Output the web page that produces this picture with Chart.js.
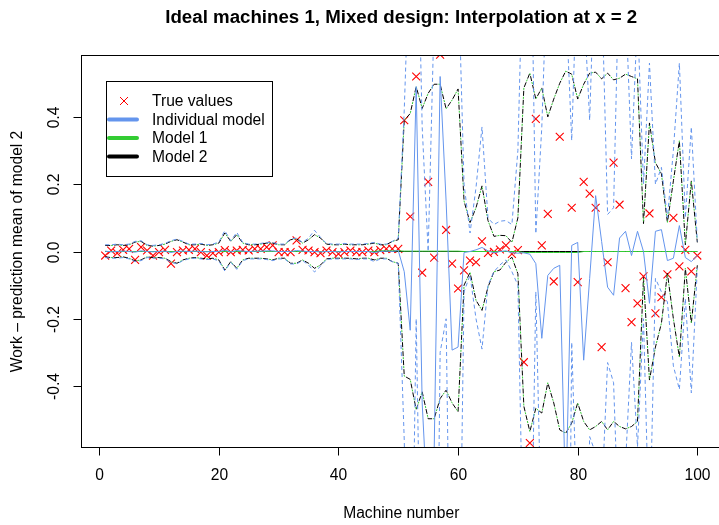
<!DOCTYPE html>
<html>
<head>
<meta charset="utf-8">
<script src="https://cdn.jsdelivr.net/npm/chart.js@4.4.0/dist/chart.umd.min.js"></script>
<style>
  html, body { margin: 0; padding: 0; background: #fff; overflow: hidden; width: 719px; height: 525px; }
  canvas { display: block; }
</style>
</head>
<body>
<canvas id="chart" width="740" height="525"></canvas>
<script>
// Machine numbers 1..100 (categories)
const machines = Array.from({ length: 100 }, (_, k) => k + 1);

// True values (red crosses); null = outside the plotted range
const trueValues = [
  -0.012, 0.003, -0.005, 0.005, 0.008, -0.025, 0.013, 0.003, -0.012, -0.002,
  0.005, -0.036, -0.002, 0.003, 0.005, 0.008, -0.002, -0.012, -0.005, -0.002,
  0.004, -0.002, 0.003, 0.005, 0.003, 0.008, 0.008, 0.013, 0.018, -0.002,
  -0.002, -0.002, 0.033, 0.005, 0.003, -0.002, -0.005, 0.003, -0.002, -0.007,
  -0.002, 0.003, -0.002, -0.002, 0.003, -0.002, 0.004, 0.008, 0.008, 0.008,
  0.39, 0.104, 0.52, -0.063, 0.207, -0.018, 0.585, 0.064, -0.036, -0.11,
  -0.056, -0.027, -0.032, 0.03, -0.004, -0.001, 0.006, 0.018, -0.007, 0.004,
  -0.329, -0.569, 0.394, 0.018, 0.112, -0.089, 0.341, null, 0.13, -0.091,
  0.207, 0.172, 0.13, -0.284, -0.032, 0.264, 0.139, -0.109, -0.21, -0.154,
  -0.074, 0.113, -0.184, -0.136, -0.068, 0.1, -0.044, 0.005, -0.059, -0.012
];

// Individual model: mean and dashed bounds
const indivMean = [
  0.001, -0.001, 0.0, 0.001, 0.0, -0.002, 0.002, 0.0, -0.001, 0.0,
  0.001, -0.003, 0.0, 0.001, 0.0, 0.001, 0.0, -0.001, 0.0, 0.0,
  0.004, -0.001, 0.003, 0.001, 0.0, 0.001, 0.001, 0.002, 0.002, 0.0,
  0.0, 0.0, 0.003, 0.001, 0.0, 0.0, -0.001, 0.0, 0.0, -0.001,
  0.0, 0.0, 0.0, 0.0, 0.0, -0.003, 0.0, 0.001, 0.0, 0.003,
  -0.06, -0.234, 0.49, -0.45, -0.8, -0.6, 0.52, 0.15, -0.293, -0.284,
  -0.003, 0.0, 0.005, 0.012, 0.002, -0.004, 0.0, 0.002, -0.004, -0.005,
  -0.004, -0.008, -0.036, -0.258, -0.071, -0.05, -0.041, -0.75, 0.018, 0.027,
  -0.323, -0.08, 0.166, 0.03, -0.106, -0.13, 0.04, 0.06, -0.012, 0.06,
  0.0, -0.154, 0.06, 0.065, -0.027, -0.02, 0.077, -0.018, -0.03, -0.012
];
const indivUpper = [
  0.02, 0.02, 0.022, 0.02, 0.022, 0.03, 0.032, 0.02, 0.018, 0.02,
  0.024, 0.032, 0.037, 0.03, 0.022, 0.022, 0.024, 0.02, 0.022, 0.028,
  0.062, 0.032, 0.057, 0.027, 0.022, 0.022, 0.024, 0.027, 0.027, 0.022,
  0.022, 0.037, 0.04, 0.027, 0.04, 0.063, 0.042, 0.024, 0.022, 0.022,
  0.024, 0.022, 0.022, 0.022, 0.024, 0.027, 0.022, 0.022, 0.03, 0.04,
  0.42, 0.95, 1.2, 0.37, 0.0, 0.7, 1.3, 0.62, 0.9, 0.85,
  0.2, 0.055, 0.19, 0.37, 0.1, 0.08, 0.09, 0.092, 0.08, 0.3,
  1.0, 1.2, 0.053, 0.37, 0.9, 0.85, 1.0, 0.75, 0.33, 0.9,
  0.75, 0.39, 0.95, 0.8, 0.11, 0.13, 0.9, 0.75, 0.275, 0.7,
  0.2, 0.56, 0.2, 0.25, 0.1, 0.3, 0.56, 0.1, 0.37, 0.03
];
const indivLower = [
  -0.018, -0.02, -0.02, -0.018, -0.022, -0.03, -0.027, -0.018, -0.02, -0.02,
  -0.022, -0.032, -0.037, -0.027, -0.022, -0.02, -0.022, -0.024, -0.022, -0.028,
  -0.058, -0.032, -0.053, -0.027, -0.022, -0.022, -0.022, -0.024, -0.027, -0.022,
  -0.022, -0.037, -0.037, -0.027, -0.04, -0.061, -0.044, -0.024, -0.022, -0.022,
  -0.022, -0.022, -0.024, -0.022, -0.022, -0.03, -0.022, -0.022, -0.03, -0.035,
  -0.56, -1.4, -0.2, -1.27, -1.6, -1.9, -0.3, -0.2, -1.5, -1.4,
  -0.12, -0.07, -0.2, -0.29, -0.1, -0.06, -0.04, -0.025, -0.06, -0.1,
  -1.0, -1.2, -0.12, -0.9, -1.0, -0.95, -1.1, -2.2, -0.27, -0.85,
  -1.4, -0.55, -0.6, -0.74, -0.33, -0.39, -0.9, -0.63, -0.27, -0.58,
  -0.2, -0.87, -0.08, -0.12, -0.15, -0.34, -0.41, -0.14, -0.42, -0.05
];

// Model 1 mean (green), lies almost on the zero line
const model1Mean = [
  0, 0, 0, 0, 0, 0, 0, 0, 0, 0,
  0, 0, 0, 0, 0, 0, 0, 0, 0, 0,
  0, 0, 0, 0, 0, 0, 0, 0, 0, 0,
  0, 0, 0, 0, 0, 0, 0, 0, 0, 0,
  0, 0, 0, 0, 0, 0, 0.002, 0.002, 0.002, 0.002,
  0.001, 0.001, 0.001, 0.001, 0.001, 0.001, 0.001, 0.001, 0.001, 0.001,
  0, 0, 0, 0, 0, 0, 0, 0, 0, 0,
  -0.003, -0.003, -0.003, -0.003, -0.003, -0.003, -0.003, -0.003, -0.003, -0.003,
  0, 0, 0, 0, 0, 0, 0, 0, 0, 0,
  0, 0, 0, 0, 0, 0, 0, 0, 0, 0
];

// Model 2 mean (the reference, so zero) and its dashed bounds
const model2Mean = [
  0, 0, 0, 0, 0, 0, 0, 0, 0, 0,
  0, 0, 0, 0, 0, 0, 0, 0, 0, 0,
  0, 0, 0, 0, 0, 0, 0, 0, 0, 0,
  0, 0, 0, 0, 0, 0, 0, 0, 0, 0,
  0, 0, 0, 0, 0, 0, 0, 0, 0, 0,
  0, 0, 0, 0, 0, 0, 0, 0, 0, 0,
  0, 0, 0, 0, 0, 0, 0, 0, 0, 0,
  0, 0, 0, 0, 0, 0, 0, 0, 0, 0,
  0, 0, 0, 0, 0, 0, 0, 0, 0, 0,
  0, 0, 0, 0, 0, 0, 0, 0, 0, 0
];
const model2Upper = [
  0.018, 0.018, 0.02, 0.018, 0.02, 0.028, 0.03, 0.018, 0.016, 0.018,
  0.022, 0.03, 0.035, 0.028, 0.02, 0.02, 0.022, 0.018, 0.02, 0.025,
  0.055, 0.03, 0.05, 0.025, 0.02, 0.02, 0.022, 0.025, 0.025, 0.02,
  0.02, 0.035, 0.038, 0.025, 0.035, 0.05, 0.04, 0.022, 0.02, 0.02,
  0.022, 0.02, 0.02, 0.02, 0.022, 0.025, 0.02, 0.02, 0.03, 0.035,
  0.39, 0.41, 0.49, 0.425, 0.47, 0.497, 0.497, 0.424, 0.45, 0.483,
  0.15, 0.086, 0.13, 0.195, 0.092, 0.045, 0.048, 0.047, 0.027, 0.1,
  0.486, 0.53, 0.453, 0.486, 0.4, 0.453, 0.5, 0.536, 0.527, 0.453,
  0.497, 0.53, 0.533, 0.513, 0.53, 0.51, 0.515, 0.527, 0.52, 0.513,
  0.083, 0.382, 0.264, 0.231, 0.086, 0.21, 0.329, 0.02, 0.21, 0.027
];
const model2Lower = [
  -0.016, -0.018, -0.018, -0.016, -0.02, -0.028, -0.025, -0.016, -0.018, -0.018,
  -0.02, -0.03, -0.035, -0.025, -0.02, -0.018, -0.02, -0.022, -0.02, -0.025,
  -0.055, -0.03, -0.05, -0.025, -0.02, -0.02, -0.02, -0.022, -0.025, -0.02,
  -0.02, -0.035, -0.035, -0.025, -0.035, -0.05, -0.04, -0.022, -0.02, -0.02,
  -0.02, -0.02, -0.022, -0.02, -0.02, -0.025, -0.02, -0.02, -0.03, -0.035,
  -0.37, -0.38, -0.47, -0.417, -0.497, -0.497, -0.437, -0.412, -0.45, -0.476,
  -0.1, -0.062, -0.145, -0.175, -0.106, -0.06, -0.055, -0.032, -0.017, -0.066,
  -0.46, -0.535, -0.466, -0.48, -0.39, -0.45, -0.53, -0.54, -0.51, -0.45,
  -0.505, -0.53, -0.52, -0.505, -0.53, -0.505, -0.52, -0.527, -0.52, -0.505,
  -0.077, -0.382, -0.284, -0.213, -0.065, -0.2, -0.314, -0.05, -0.213, -0.041
];

// Axis ticks
const xTicks = [0, 20, 40, 60, 80, 100];
const yTicks = [-0.4, -0.2, 0, 0.2, 0.4];
const yTickLabels = ['-0.4', '-0.2', '0.0', '0.2', '0.4'];

const BLUE = '#6495ED';
const GREEN = '#33CC33';
const FONT = '"Liberation Sans", Arial, Helvetica, sans-serif';

function series(values) {
  return values.map((v, k) => ({ x: machines[k], y: v }));
}

function lineSet(values, color, width, dash, offset) {
  return {
    data: series(values),
    borderColor: color,
    borderWidth: width,
    borderDash: dash || [],
    borderDashOffset: offset || 0,
    pointRadius: 0,
    fill: false,
    tension: 0,
    clip: 0
  };
}

// R style axes, box, titles and legend
const rAxes = {
  id: 'rAxes',
  afterDraw(chart) {
    const ctx = chart.ctx;
    const a = chart.chartArea;
    const xs = chart.scales.x;
    const ys = chart.scales.y;
    const L = Math.floor(a.left) + 0.5;
    const T = Math.floor(a.top) + 0.5;
    const B = Math.floor(a.bottom) + 0.5;
    ctx.save();
    ctx.strokeStyle = '#000';
    ctx.lineWidth = 1;
    ctx.setLineDash([]);
    ctx.strokeRect(L, T, Math.ceil(a.right) - L, B - T);

    ctx.fillStyle = '#000';
    ctx.font = '15.6px ' + FONT;
    ctx.textAlign = 'center';
    ctx.textBaseline = 'middle';
    xTicks.forEach(t => {
      const px = Math.round(xs.getPixelForValue(t)) + 0.5;
      ctx.beginPath();
      ctx.moveTo(px, B);
      ctx.lineTo(px, B + 8);
      ctx.stroke();
      ctx.fillText(String(t), px, B + 28);
    });
    yTicks.forEach((t, k) => {
      const py = Math.round(ys.getPixelForValue(t)) + 0.5;
      ctx.beginPath();
      ctx.moveTo(L, py);
      ctx.lineTo(L - 8, py);
      ctx.stroke();
      ctx.save();
      ctx.translate(L - 27, py);
      ctx.rotate(-Math.PI / 2);
      ctx.fillText(yTickLabels[k], 0, 0);
      ctx.restore();
    });

    const cx = (a.left + a.right) / 2;
    const cy = (a.top + a.bottom) / 2;
    ctx.fillText('Machine number', cx, 514);
    ctx.save();
    ctx.translate(18, cy);
    ctx.rotate(-Math.PI / 2);
    ctx.fillText('Work \u2013 prediction mean of model 2', 0, 0);
    ctx.restore();

    ctx.font = 'bold 18.7px ' + FONT;
    ctx.fillText('Ideal machines 1, Mixed design: Interpolation at x = 2', cx, 18);

    // legend
    ctx.strokeRect(106.5, 81.5, 166, 95);
    ctx.font = '15.6px ' + FONT;
    ctx.textAlign = 'left';
    const items = [
      { label: 'True values', color: 'red', mark: true, y: 101 },
      { label: 'Individual model', color: BLUE, y: 119.5 },
      { label: 'Model 1', color: GREEN, y: 138 },
      { label: 'Model 2', color: '#000', y: 156.5 }
    ];
    items.forEach(it => {
      if (it.mark) {
        ctx.strokeStyle = 'red';
        ctx.lineWidth = 1;
        ctx.beginPath();
        ctx.moveTo(120, it.y - 4); ctx.lineTo(128, it.y + 4);
        ctx.moveTo(128, it.y - 4); ctx.lineTo(120, it.y + 4);
        ctx.stroke();
      } else {
        ctx.strokeStyle = it.color;
        ctx.lineWidth = 4;
        ctx.lineCap = 'round';
        ctx.beginPath();
        ctx.moveTo(109, it.y); ctx.lineTo(137, it.y);
        ctx.stroke();
        ctx.lineCap = 'butt';
      }
      ctx.fillStyle = '#000';
      ctx.fillText(it.label, 152, it.y + 1);
    });
    ctx.restore();
  }
};

new Chart(document.getElementById('chart'), {
  type: 'line',
  data: {
    datasets: [
      lineSet(indivUpper, BLUE, 1, [4, 3]),
      lineSet(indivLower, BLUE, 1, [4, 3]),
      lineSet(indivMean, BLUE, 1),
      // model 1 bounds coincide with model 2 bounds at this scale
      lineSet(model2Upper, GREEN, 1, [2, 7], 3),
      lineSet(model2Lower, GREEN, 1, [2, 7], 3),
      lineSet(model1Mean, GREEN, 1),
      lineSet(model2Upper, '#000', 1, [5, 4]),
      lineSet(model2Lower, '#000', 1, [5, 4]),
      lineSet(model2Mean, '#000', 1),
      {
        data: series(trueValues),
        showLine: false,
        pointStyle: 'crossRot',
        pointRadius: 5.6,
        pointBorderColor: 'red',
        pointBackgroundColor: 'red',
        pointBorderWidth: 1.1,
        borderColor: 'red',
        backgroundColor: 'red',
        clip: 0
      }
    ]
  },
  options: {
    responsive: false,
    animation: false,
    devicePixelRatio: 1,
    layout: { padding: { left: 81.5, top: 55.5, right: 19, bottom: 77.5 } },
    scales: {
      x: { type: 'linear', display: false, min: -2.96, max: 103.96 },
      y: { type: 'linear', display: false, min: -0.5824, max: 0.5824 }
    },
    plugins: { legend: { display: false }, tooltip: { enabled: false } },
    events: []
  },
  plugins: [rAxes]
});
</script>
</body>
</html>
